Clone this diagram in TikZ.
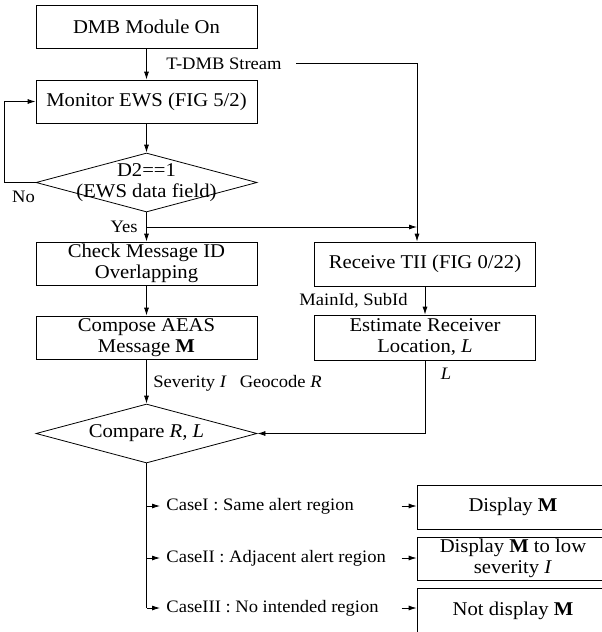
\documentclass[tikz,border=0pt]{standalone}
\usepackage{fontspec}
\setmainfont{Liberation Serif}[FakeStretch=1.06]
\usetikzlibrary{shapes.geometric, arrows.meta, calc}
\newcommand{\boxfont}{\fontsize{19.5}{21}\selectfont}
\newcommand{\tagfont}{\fontsize{17.5}{19}\selectfont}
\tikzset{
>={Latex[length=8pt,width=5pt]}, % small filled arrow heads
process/.style={draw, rectangle, minimum width=221pt, minimum height=43pt, inner sep=0pt, align=center, font=\boxfont}, % one step of the flow
decision/.style={draw, diamond, minimum width=221pt, minimum height=59pt, inner sep=0pt}, % test shape, its text is set on top
tag/.style={font=\tagfont, inner sep=0pt}, % labels along the edges
}

\begin{document}
\begin{tikzpicture}[x=1pt, y=-1pt, line width=0.8pt]
        \useasboundingbox (0,0) rectangle (602,632);
        \clip (0,0) rectangle (602,632);

        % Alert column
        \node[process] (on) at (146.5,26.5) {DMB Module On};
        \node[process] (monitor) at (146.5,101.5) {Monitor EWS (FIG 5/2)};
        \node[decision] (ews) at (146.5,182.5) {};
        \node[align=center, font=\boxfont] (ewstext) at (ews) {D2==1\\(EWS data field)};
        \node[process] (check) at (146.5,263.5) {Check Message ID\\Overlapping};
        \node[process] (compose) at (146.5,337.5) {Compose AEAS\\Message \textbf{M}};
        \node[decision] (compare) at (146.5,433.5) {};
        \node[font=\boxfont] (comparetext) at (compare) {Compare \textit{R, L}};

        % Location column
        \node[process, minimum height=44pt] (receive) at (425,264) {Receive TII (FIG 0/22)};
        \node[process, minimum height=45pt] (estimate) at (425,337.5) {Estimate Receiver\\Location, \textit{L}};

        % Outcomes (run past the right margin)
        \node[process, minimum width=192pt, minimum height=44pt] (show) at (513,507) {Display \textbf{M}};
        \node[process, minimum width=192pt] (lower) at (513,558.5) {Display \textbf{M} to low\\severity \textit{I}};
        \node[process, minimum width=192pt, minimum height=46pt] (hide) at (513,611) {Not display \textbf{M}};

        % Edge labels
        \node[tag, anchor=base west] (stream) at (166,69) {T-DMB Stream};
        \node[tag, anchor=base east] (yes) at (138,232) {Yes};
        \node[tag, anchor=base] (no) at (23.5,202) {No};
        \node[tag, anchor=base west] (attr) at (153,387) {Severity \textit{I}\hspace{13pt}Geocode \textit{R}};
        \node[tag, anchor=base east] (ids) at (408,305) {MainId, SubId};
        \node[tag, anchor=base] (loc) at (446,379) {\textit{L}};
        \node[tag, anchor=west, inner xsep=6pt] (case1) at (160,506) {CaseI : Same alert region};
        \node[tag, anchor=west, inner xsep=6pt] (case2) at (160,558) {CaseII : Adjacent alert region};
        \node[tag, anchor=west, inner xsep=6pt] (case3) at (160,608) {CaseIII : No intended region};

        \coordinate (tap) at (417,64);
        \coordinate (fork) at (146.5,227);

        % Main flow
        \draw[->] (on) -- (monitor);
        \draw[->] (monitor) -- (ews);
        \draw[->] (ews.west) -- ++(-31,0) |- (monitor.west);
        \draw[->] (ews) -- (check);
        \draw[->] (check) -- (compose);
        \draw[->] (compose) -- (compare);

        % Stream to TII
        \draw[->] ($(stream.east)+(14,0)$) -| (tap |- receive.north);
        \draw[->] (fork) -- (fork -| tap);
        \draw[->] (receive) -- (estimate);
        \draw[->] (estimate.south) |- (compare.east);

        % Cases
        \draw (compare.south) -- (compare.south |- case3.west);
        \draw[->] (compare.south |- case1.west) -- (case1.west);
        \draw[->] (compare.south |- case2.west) -- (case2.west);
        \draw[->] (compare.south |- case3.west) -- (case3.west);
        \draw[->] ($(case1.west -| show.west)+(-15,0)$) -- (case1.west -| show.west);
        \draw[->] ($(case2.west -| lower.west)+(-15,0)$) -- (case2.west -| lower.west);
        \draw[->] ($(case3.west -| hide.west)+(-15,0)$) -- (case3.west -| hide.west);
    \end{tikzpicture}
\end{document}
